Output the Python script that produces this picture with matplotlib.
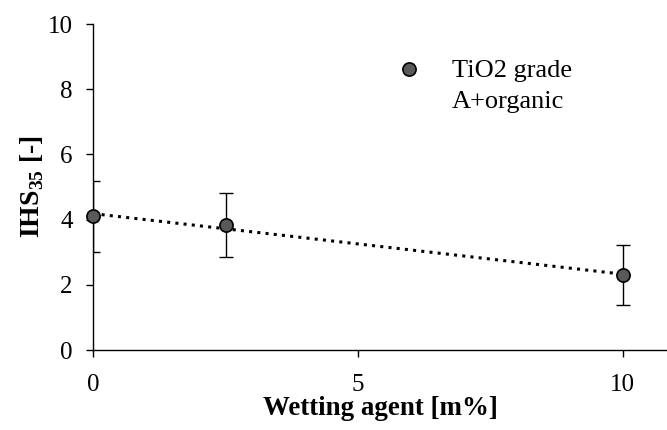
import matplotlib
matplotlib.use("Agg")
import matplotlib.pyplot as plt
import numpy as np

plt.rcParams['font.family'] = ['Liberation Serif', 'DejaVu Serif']
plt.rcParams['mathtext.fontset'] = 'custom'
plt.rcParams['mathtext.rm'] = 'Liberation Serif'
plt.rcParams['mathtext.bf'] = 'Liberation Serif:bold'

wetting = [0, 2.5, 10]
ihs = [4.1, 3.83, 2.3]
err = [1.1, 0.98, 0.93]
legend_lines = ["TiO2 grade", "A+organic"]
xticks = [0, 5, 10]
yticks = [0, 2, 4, 6, 8, 10]

marker_face = '#595959'

fig = plt.figure(figsize=(6.67, 4.30), dpi=100)
ax = fig.add_axes([0.140, 0.186, 0.86, 0.758])

# linear trend line fitted to the data
coef = np.polyfit(wetting, ihs, 1)
xs = np.array([min(wetting), max(wetting)])
ax.plot(xs, np.polyval(coef, xs), linestyle=(0, (1, 1.7)), color='black', lw=2.2, zorder=2)

# error bars (clipped at the axes, as in the reference)
ax.errorbar(wetting, ihs, yerr=err, fmt='none', ecolor='black',
            elinewidth=1.0, capsize=4.7, capthick=1.0, zorder=3)
# markers (not clipped)
ax.plot(wetting, ihs, 'o', markersize=9.5, markerfacecolor=marker_face,
        markeredgecolor='black', markeredgewidth=1.2, zorder=4, clip_on=False)

# legend drawn manually: marker aligned with first text line
ax.plot([0.55], [0.862], 'o', transform=ax.transAxes, markersize=9.5,
        markerfacecolor=marker_face, markeredgecolor='black', markeredgewidth=1.2,
        clip_on=False)
ax.text(0.625, 0.837, legend_lines[0], transform=ax.transAxes, fontsize=19,
        ha='left', va='baseline')
ax.text(0.625, 0.742, legend_lines[1], transform=ax.transAxes, fontsize=19,
        ha='left', va='baseline')

ax.set_xlim(0, 10.84)
ax.set_ylim(0, 10)
ax.set_xticks(xticks)
ax.set_yticks(yticks)
ax.tick_params(axis='both', direction='out', length=5, width=1, labelsize=18)
ax.tick_params(axis='x', pad=12)
ax.tick_params(axis='y', pad=10)
for s in ['top', 'right']:
    ax.spines[s].set_visible(False)
for s in ['left', 'bottom']:
    ax.spines[s].set_linewidth(1.0)

ax.set_xlabel("Wetting agent [m%]", fontsize=19.4, fontweight='bold', labelpad=0)
ax.set_ylabel(r"IHS$_{\mathbf{35}}$ [-]", fontsize=20, fontweight='bold', labelpad=1)

fig.savefig("out.png", dpi=100)
